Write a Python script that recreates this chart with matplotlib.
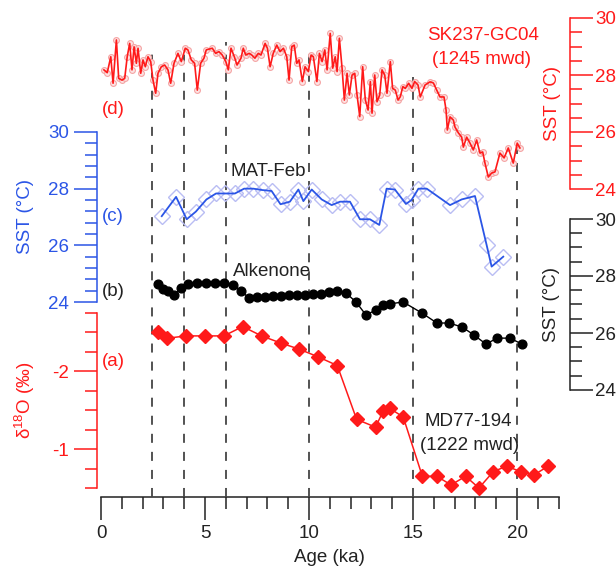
import matplotlib

matplotlib.use("Agg")
import matplotlib.pyplot as plt
import numpy as np
from matplotlib.ticker import FixedLocator, NullFormatter
from matplotlib.transforms import blended_transform_factory

plt.rcParams["font.family"] = ["Liberation Sans", "DejaVu Sans"]
plt.rcParams["mathtext.fontset"] = "custom"
plt.rcParams["mathtext.rm"] = "Liberation Sans"
plt.rcParams["axes.unicode_minus"] = False

# (d) SK237-GC04 SST
SK_AGE = [0.14, 0.30, 0.47, 0.58, 0.74, 0.85, 1.01, 1.14, 1.26, 1.38,
          1.49, 1.59, 1.70, 1.78, 1.91, 2.02, 2.13, 2.26, 2.39, 2.50,
          2.63, 2.74, 2.90, 3.06, 3.22, 3.35, 3.51, 3.70, 3.86, 4.05,
          4.18, 4.34, 4.50, 4.63, 4.79, 4.95, 5.06, 5.35, 5.51, 5.67,
          5.83, 6.00, 6.12, 6.25, 6.41, 6.54, 6.73, 6.84, 6.96, 7.12,
          7.25, 7.40, 7.56, 7.69, 7.89, 8.00, 8.13, 8.28, 8.45, 8.61,
          8.77, 8.93, 9.04, 9.17, 9.29, 9.41, 9.52, 9.68, 9.81, 9.97,
          10.10, 10.21, 10.38, 10.50, 10.63, 10.76, 10.87, 11.02, 11.14, 11.26,
          11.35, 11.46, 11.59, 11.70, 11.83, 11.94, 12.07, 12.20, 12.31, 12.44,
          12.58, 12.71, 12.84, 12.95, 13.03, 13.16, 13.27, 13.40, 13.51, 13.64,
          13.75, 13.91, 14.02, 14.15, 14.28, 14.39, 14.51, 14.63, 14.79, 14.95,
          15.08, 15.24, 15.35, 15.58, 15.82, 15.98, 16.14, 16.30, 16.49, 16.59,
          16.65, 16.78, 16.94, 17.02, 17.18, 17.34, 17.42, 17.58, 17.74, 17.90,
          18.06, 18.22, 18.35, 18.46, 18.62, 18.78, 18.94, 19.18, 19.38, 19.58,
          19.82, 20.01, 20.14]
SK_SST = [28.18, 28.08, 28.64, 27.71, 29.23, 27.88, 27.82, 27.88, 28.64, 29.11,
          28.18, 28.99, 28.41, 28.94, 28.06, 28.53, 28.29, 28.64, 28.47, 27.82,
          27.36, 28.06, 28.29, 28.35, 28.18, 27.71, 28.41, 28.76, 28.47, 28.94,
          28.88, 28.53, 28.41, 27.47, 28.41, 28.59, 28.88, 28.94, 28.76, 28.82,
          28.70, 28.47, 28.18, 28.94, 28.64, 28.35, 28.59, 28.94, 28.70, 28.76,
          28.70, 28.59, 28.76, 28.70, 29.11, 28.94, 28.29, 28.76, 29.05, 28.82,
          28.94, 28.64, 27.82, 28.99, 29.05, 28.41, 28.53, 27.77, 28.29, 28.12,
          28.70, 28.64, 27.77, 28.76, 28.47, 28.88, 28.18, 29.46, 28.24, 28.64,
          28.12, 29.29, 28.24, 27.12, 28.06, 27.30, 28.00, 28.06, 27.30, 26.54,
          28.29, 27.12, 26.77, 27.77, 26.66, 28.00, 27.06, 27.30, 28.18, 28.00,
          27.36, 28.47, 27.53, 27.47, 27.12, 27.24, 27.59, 27.53, 27.71, 27.53,
          27.77, 27.65, 27.23, 27.65, 27.76, 27.72, 27.47, 27.23, 27.23, 26.77,
          26.07, 26.53, 26.42, 26.17, 25.97, 25.82, 25.47, 25.82, 25.61, 25.37,
          25.72, 25.26, 25.30, 24.91, 24.42, 24.56, 24.60, 25.26, 25.09, 25.44,
          24.91, 25.61, 25.44]

# (c) MAT-Feb SST
MAT_AGE = [2.92, 3.61, 4.12, 4.56, 5.07, 5.53, 5.96, 6.44, 6.88, 7.32,
           7.77, 8.20, 8.63, 9.08, 9.49, 9.73, 10.13, 10.61, 11.09, 11.49,
           11.97, 12.45, 12.93, 13.38, 13.73, 14.13, 14.66, 14.93, 15.26, 15.66,
           16.78, 17.34, 17.98, 18.54, 18.78, 19.34]
MAT_SST = [27.03, 27.71, 26.92, 27.19, 27.62, 27.83, 27.83, 27.83, 28.00, 28.00,
           27.95, 27.92, 27.45, 27.54, 27.97, 27.56, 27.97, 27.62, 27.42, 27.54,
           27.54, 26.92, 26.92, 26.72, 28.00, 27.97, 27.46, 27.60, 28.00, 28.00,
           27.42, 27.62, 27.74, 26.01, 25.25, 25.60]

# (b) Alkenone SST
ALK_AGE = [2.74, 2.98, 3.22, 3.51, 3.85, 4.18, 4.62, 5.05, 5.48, 5.91,
           6.35, 6.73, 7.12, 7.50, 7.88, 8.27, 8.65, 9.04, 9.42, 9.81,
           10.19, 10.58, 10.96, 11.35, 11.78, 12.26, 12.74, 13.22, 13.56, 13.89,
           14.52, 15.43, 16.15, 16.73, 17.36, 17.93, 18.51, 19.04, 19.66, 20.24]
ALK_SST = [27.72, 27.54, 27.47, 27.33, 27.58, 27.72, 27.75, 27.75, 27.75, 27.75,
           27.68, 27.47, 27.23, 27.26, 27.26, 27.30, 27.30, 27.33, 27.33, 27.33,
           27.37, 27.37, 27.44, 27.47, 27.40, 27.09, 26.63, 26.81, 26.98, 27.02,
           27.09, 26.70, 26.35, 26.35, 26.21, 25.93, 25.61, 25.82, 25.82, 25.61]

# (a) MD77-194 benthic d18O
D18O_AGE = [2.72, 3.19, 4.09, 5.00, 5.91, 6.81, 7.72, 8.63, 9.53, 10.45,
            11.36, 12.29, 13.20, 13.57, 13.89, 14.53, 15.45, 16.14, 16.83, 17.53,
            18.17, 18.86, 19.50, 20.17, 20.83, 21.50]
D18O = [-2.50, -2.42, -2.45, -2.45, -2.45, -2.57, -2.45, -2.36, -2.28, -2.18,
        -2.07, -1.38, -1.28, -1.49, -1.52, -1.41, -0.65, -0.65, -0.54, -0.65,
        -0.50, -0.71, -0.78, -0.71, -0.67, -0.78]

# event lines (age) and where each stops, in panel (d) SST units
EVENT_AGE = [2.45, 4.0, 6.0, 10.0, 15.0, 20.0]
EVENT_TOP = [28.88, 28.99, 29.17, 28.77, 27.93, 25.65]

FIG_W, FIG_H = 616, 573
X_LEFT, X_RIGHT = 101, 558.6
AXIS_Y = 497
FS = 13.5
RED = "#ff1a1a"
BLUE = "#2b55e6"


def add_panel(fig, v1, p1, v2, p2):
    """Full-height transparent axes whose y scale puts v1 at pixel row p1 and v2 at p2."""
    ax = fig.add_axes([X_LEFT / FIG_W, 1 - AXIS_Y / FIG_H,
                       (X_RIGHT - X_LEFT) / FIG_W, AXIS_Y / FIG_H])
    slope = (v2 - v1) / (p2 - p1)
    ax.set_ylim(v1 + (AXIS_Y - p1) * slope, v1 - p1 * slope)
    ax.set_xlim(0, 22)
    ax.patch.set_visible(False)
    for spine in ax.spines.values():
        spine.set_visible(False)
    ax.tick_params(axis="x", which="both", bottom=False, labelbottom=False)
    return ax


def style_yaxis(ax, side, color, lo, hi, major, minor_step, label, label_x, label_y):
    spine = ax.spines[side]
    spine.set_visible(True)
    spine.set_bounds(lo, hi)
    spine.set_color(color)
    spine.set_linewidth(1.1)
    if side == "right":
        spine.set_position(("axes", (570 - X_LEFT) / (X_RIGHT - X_LEFT)))
        ax.yaxis.tick_right()
        pad = 1.5
    else:
        spine.set_position(("axes", (96.7 - X_LEFT) / (X_RIGHT - X_LEFT)))
        ax.yaxis.tick_left()
        pad = 3.5
    ax.yaxis.set_major_locator(FixedLocator(major))
    ax.yaxis.set_minor_locator(FixedLocator(np.arange(lo, hi + 1e-6, minor_step)))
    ax.yaxis.set_minor_formatter(NullFormatter())
    ax.tick_params(axis="y", which="both", direction="out", colors=color, width=1.1)
    ax.tick_params(axis="y", which="major", length=16.5, pad=pad, labelsize=FS)
    ax.tick_params(axis="y", which="minor", length=8.5)
    trans = blended_transform_factory(ax.transAxes, ax.transData)
    ax.text(label_x, label_y, label, transform=trans, rotation=90, color=color,
            fontsize=FS, ha="center", va="center")


def main() -> None:
    fig = plt.figure(figsize=(FIG_W / 100, FIG_H / 100), dpi=100)

    # bottom age axis
    ax_x = add_panel(fig, 0, 0, 1, AXIS_Y)
    ax_x.spines["bottom"].set_visible(True)
    ax_x.spines["bottom"].set_linewidth(1.1)
    ax_x.spines["bottom"].set_color("#222222")
    ax_x.set_yticks([])
    ax_x.set_xticks([0, 5, 10, 15, 20])
    ax_x.set_xticks(np.arange(0, 23, 1), minor=True)
    ax_x.tick_params(axis="x", which="both", bottom=True, labelbottom=True,
                     direction="out", width=1.1, colors="#222222")
    ax_x.tick_params(axis="x", which="major", length=16.5, pad=4, labelsize=FS)
    ax_x.tick_params(axis="x", which="minor", length=8.5)
    ax_x.set_xlabel("Age (ka)", fontsize=FS, color="#222222")
    ax_x.xaxis.set_label_coords(0.5, -0.105)
    ax_x.xaxis.label.set_va("top")

    # (d) SK237-GC04
    ax_d = add_panel(fig, 30, 18, 24, 189)
    ax_d.vlines(EVENT_AGE, ax_d.get_ylim()[0], EVENT_TOP, colors="#444444",
                linestyles=(0, (5, 5)), linewidth=1.3, zorder=1)
    ax_d.plot(SK_AGE, SK_SST, linestyle="none", marker="o", markersize=4.2,
              markerfacecolor="#fde3e3", markeredgecolor="#f4a5a5",
              markeredgewidth=0.8, zorder=2)
    ax_d.plot(SK_AGE, SK_SST, color=RED, linewidth=1.2, zorder=3)
    style_yaxis(ax_d, "right", RED, 24, 30, [24, 26, 28, 30], 0.5,
                "SST (°C)", (552.5 - X_LEFT) / (X_RIGHT - X_LEFT), 27)
    ax_d.text(0.58, 26.8, "(d)", color=RED, fontsize=FS, ha="center", va="center")
    ax_d.text(18.35, 29.40, "SK237-GC04", color=RED, fontsize=FS, ha="center", va="center")
    ax_d.text(18.3, 28.53, "(1245 mwd)", color=RED, fontsize=FS, ha="center", va="center")

    # (c) MAT-Feb
    ax_c = add_panel(fig, 30, 132, 24, 302)
    ax_c.plot(MAT_AGE, MAT_SST, linestyle="none", marker="D", markersize=8,
              markerfacecolor="none", markeredgecolor="#b9bdf3",
              markeredgewidth=1.0, zorder=2)
    ax_c.plot(MAT_AGE, MAT_SST, color=BLUE, linewidth=1.3, zorder=3)
    style_yaxis(ax_c, "left", BLUE, 24, 30, [24, 26, 28, 30], 0.4,
                "SST (°C)", (25 - X_LEFT) / (X_RIGHT - X_LEFT), 27)
    ax_c.text(0.58, 27.01, "(c)", color=BLUE, fontsize=FS, ha="center", va="center")
    ax_c.text(8.02, 28.6, "MAT-Feb", color="#222222", fontsize=FS, ha="center", va="center")

    # (b) Alkenone
    ax_b = add_panel(fig, 30, 219, 24, 390)
    ax_b.plot(ALK_AGE, ALK_SST, color="black", linewidth=1.0, marker="o",
              markersize=6.3, zorder=3)
    style_yaxis(ax_b, "right", "#222222", 24, 30, [24, 26, 28, 30], 0.5,
                "SST (°C)", (551.7 - X_LEFT) / (X_RIGHT - X_LEFT), 27)
    ax_b.text(0.58, 27.45, "(b)", color="#222222", fontsize=FS, ha="center", va="center")
    ax_b.text(8.2, 28.15, "Alkenone", color="#222222", fontsize=FS, ha="center", va="center")

    # (a) MD77-194 d18O (reversed)
    ax_a = add_panel(fig, -2, 371, -1, 449)
    ax_a.plot(D18O_AGE, D18O, color=RED, linewidth=1.1, marker="D",
              markersize=7.5, zorder=3)
    style_yaxis(ax_a, "left", RED, -2.75, -0.5, [-2, -1], 0.25,
                "δ$^{18}$O (‰)", (25 - X_LEFT) / (X_RIGHT - X_LEFT), -1.63)
    ax_a.text(0.58, -2.12, "(a)", color=RED, fontsize=FS, ha="center", va="center")
    ax_a.text(17.68, -1.35, "MD77-194", color="#222222", fontsize=FS, ha="center", va="center")
    ax_a.text(17.7, -1.05, "(1222 mwd)", color="#222222", fontsize=FS, ha="center", va="center")

    fig.savefig("out.png", dpi=100)
    plt.close(fig)


if __name__ == "__main__":
    main()
